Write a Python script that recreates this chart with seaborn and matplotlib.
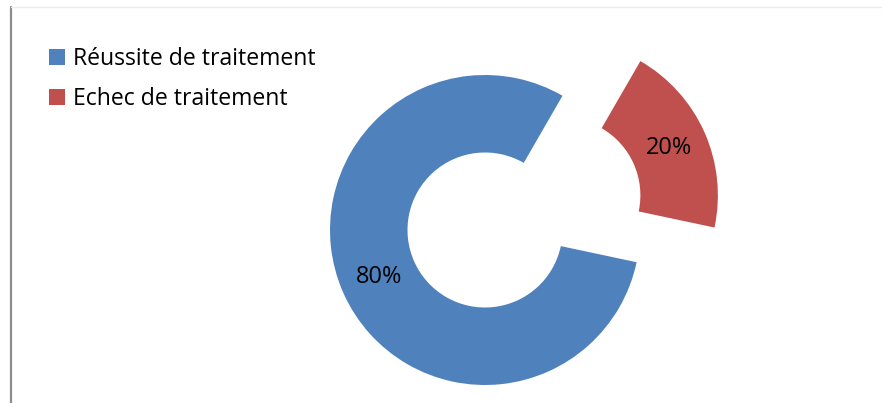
import matplotlib
matplotlib.use("Agg")
import matplotlib.pyplot as plt
from matplotlib.lines import Line2D
from matplotlib.patches import Patch
import seaborn as sns

sns.set_theme(style="white")
plt.rcParams['font.family'] = ['Open Sans', 'DejaVu Sans']
plt.rcParams['text.color'] = 'black'

# Treatment outcome shares
categories = ["Réussite de traitement", "Echec de traitement"]
values = [80, 20]
colors = ["#4F81BD", "#C0504D"]

W, H = 882, 403
fig = plt.figure(figsize=(W / 100, H / 100), dpi=100)
ax = fig.add_axes([0, 0, 1, 1])

wedges, texts, autotexts = ax.pie(
    values,
    colors=colors,
    explode=[0, 0.55],
    startangle=-12,
    counterclock=False,
    radius=1.0,
    wedgeprops=dict(width=0.5, linewidth=0),
    autopct=lambda p: f"{p:.0f}%",
    pctdistance=0.75,
    textprops=dict(fontsize=17, color="black"),
)

# donut centred at pixel (485, 230) with outer radius 155 px
cx, cy, r = 485, 230, 155
ax.set_xlim((0 - cx) / r, (W - cx) / r)
ax.set_ylim((cy - H) / r, (cy - 0) / r)
ax.set_aspect("auto")
ax.axis("off")

# chart frame edges
fig.add_artist(Line2D([10.5 / W, 10.5 / W], [0, 1 - 7 / H], color="#8c8c8c", linewidth=1.6))
fig.add_artist(Line2D([10.5 / W, 1], [1 - 7 / H, 1 - 7 / H], color="#ececec", linewidth=1.0))

handles = [Patch(facecolor=c, edgecolor="none") for c in colors]
leg = fig.legend(
    handles, categories,
    loc="upper left",
    bbox_to_anchor=(49 / W, 1 - 47 / H),
    frameon=False,
    fontsize=16.6,
    handlelength=0.68,
    handleheight=0.68,
    handletextpad=0.36,
    labelspacing=0.68,
    borderaxespad=0,
    borderpad=0,
)
for t in leg.get_texts():
    t.set_color("black")

fig.savefig("out.png", dpi=100, facecolor="white")
